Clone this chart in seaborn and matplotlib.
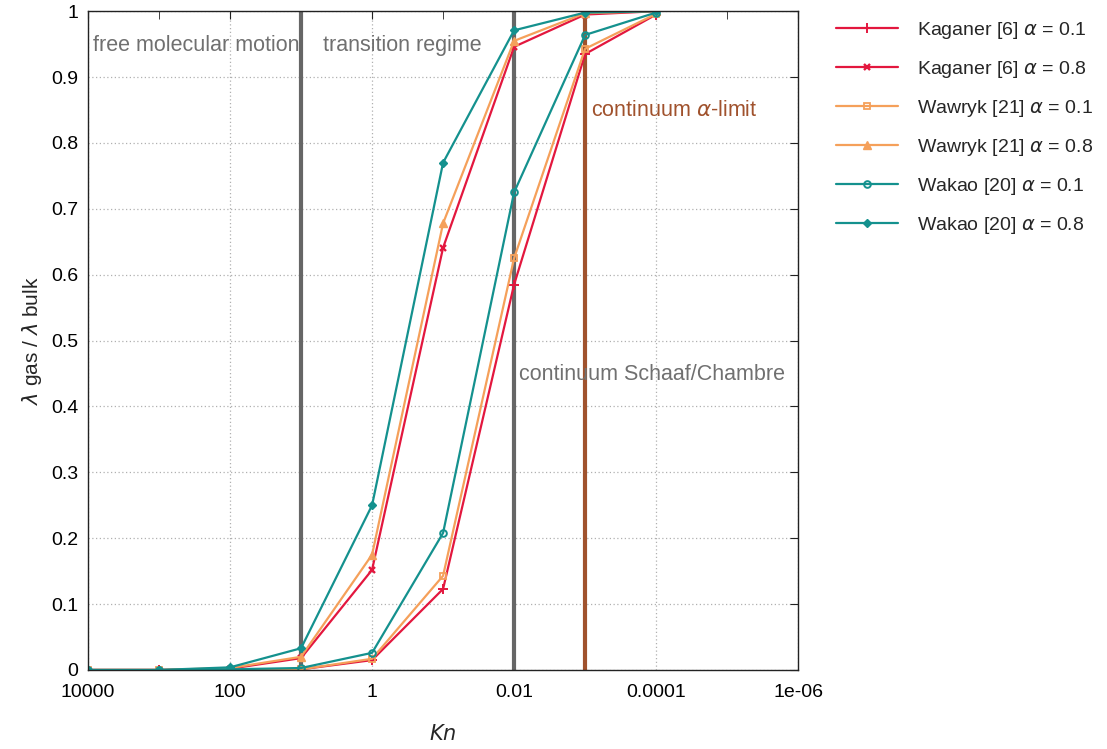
import matplotlib
matplotlib.use('Agg')
import matplotlib.pyplot as plt
import pandas as pd
import seaborn as sns

# %% data
kn = [1e4, 1e3, 1e2, 1e1, 1e0, 1e-1, 1e-2, 1e-3, 1e-4]
kaganer_01 = [0.0, 0.0, 0.0, 0.001, 0.015, 0.123, 0.585, 0.935, 0.995]
kaganer_08 = [0.0, 0.0, 0.002, 0.018, 0.152, 0.641, 0.946, 0.995, 1.0]
wawryk_01 = [0.0, 0.0, 0.0, 0.001, 0.017, 0.143, 0.625, 0.943, 0.996]
wawryk_08 = [0.0, 0.0, 0.003, 0.020, 0.175, 0.678, 0.955, 0.997, 1.0]
wakao_01 = [0.0, 0.0, 0.001, 0.003, 0.026, 0.208, 0.725, 0.964, 0.998]
wakao_08 = [0.0, 0.0, 0.004, 0.033, 0.250, 0.770, 0.971, 0.998, 1.0]

series_names = [r'Kaganer [6] $\alpha$ = 0.1', r'Kaganer [6] $\alpha$ = 0.8',
                r'Wawryk [21] $\alpha$ = 0.1', r'Wawryk [21] $\alpha$ = 0.8',
                r'Wakao [20] $\alpha$ = 0.1', r'Wakao [20] $\alpha$ = 0.8']
series_values = [kaganer_01, kaganer_08, wawryk_01, wawryk_08, wakao_01, wakao_08]

x_ticks = [1e4, 1e2, 1e0, 1e-2, 1e-4, 1e-6]
x_tick_labels = ['10000', '100', '1', '0.01', '0.0001', '1e-06']
y_ticks = [0, 0.1, 0.2, 0.3, 0.4, 0.5, 0.6, 0.7, 0.8, 0.9, 1]
y_tick_labels = ['0', '0.1', '0.2', '0.3', '0.4', '0.5', '0.6', '0.7', '0.8', '0.9', '1']
regime_lines = [10, 0.01]
alpha_limit = 0.001

# %% styles
red = '#e3173e'
orange = '#f5a05a'
teal = '#14918e'
styles = [
    dict(color=red, marker='+', ms=7.5, mew=1.4, mec=red),
    dict(color=red, marker='x', ms=5, mew=1.7, mec=red),
    dict(color=orange, marker='s', ms=4.8, mew=1.3, mfc='none', mec=orange),
    dict(color=orange, marker='^', ms=5.8, mew=1.0, mfc=orange, mec=orange),
    dict(color=teal, marker='o', ms=4.8, mew=1.4, mfc='none', mec=teal),
    dict(color=teal, marker='D', ms=4, mew=1.0, mfc=teal, mec=teal),
]

dataset = pd.DataFrame({'Kn': kn})
for name, vals in zip(series_names, series_values):
    dataset[name] = vals

# %% plot
sns.set_style('white')
plt.rcParams['font.family'] = ['Liberation Sans', 'DejaVu Sans']
plt.rcParams['font.size'] = 13

fig = plt.figure(figsize=(11.07, 7.49), dpi=100)
ax = fig.add_axes([0.0795, 0.1055, 0.6415, 0.8795])

for name, st in zip(series_names, styles):
    sns.lineplot(data=dataset, x='Kn', y=name, ax=ax, label=name, lw=1.6, **st)

for xv in regime_lines:
    ax.axvline(xv, color='#666666', lw=3, zorder=1)
ax.axvline(alpha_limit, color='#a0522d', lw=3, zorder=1)

ax.set_xscale('log')
ax.set_xlim(1e4, 1e-6)
ax.set_ylim(0, 1)
ax.set_xticks(x_ticks)
ax.set_xticklabels(x_tick_labels)
ax.set_xticks([1e3, 1e1, 1e-1, 1e-3, 1e-5], minor=True)
ax.set_xticklabels([], minor=True)
ax.set_yticks(y_ticks)
ax.set_yticklabels(y_tick_labels)
ax.tick_params(which='both', direction='in', top=True, right=True, colors='#222222',
               labelcolor='black', labelsize=14)
ax.tick_params(which='major', length=6, pad=10)
ax.tick_params(which='minor', length=6)
ax.tick_params(axis='y', pad=7)
ax.grid(True, which='major', ls=(0, (1, 2)), color='#b0b0b0', lw=0.9)
for sp in ax.spines.values():
    sp.set_color('#222222')
    sp.set_linewidth(1.0)

ax.text(8500, 0.948, 'free molecular motion', color='#707070', fontsize=15.5, va='center')
ax.text(4.9, 0.948, 'transition regime', color='#707070', fontsize=15.5, va='center')
ax.text(0.0085, 0.448, 'continuum Schaaf/Chambre', color='#707070', fontsize=15.5, va='center')
ax.text(0.00083, 0.85, r'continuum $\alpha$-limit', color='#a0522d', fontsize=15.5, va='center')

ax.set_xlabel('$Kn$', fontsize=15, labelpad=17)
ax.set_ylabel(r'$\lambda$ gas / $\lambda$ bulk', fontsize=15, labelpad=5)

ax.legend(loc='upper left', bbox_to_anchor=(1.028, 1.013), frameon=False, fontsize=14,
          handlelength=3.2, handletextpad=1.0, labelspacing=0.92)

fig.savefig('out.png', dpi=100)
